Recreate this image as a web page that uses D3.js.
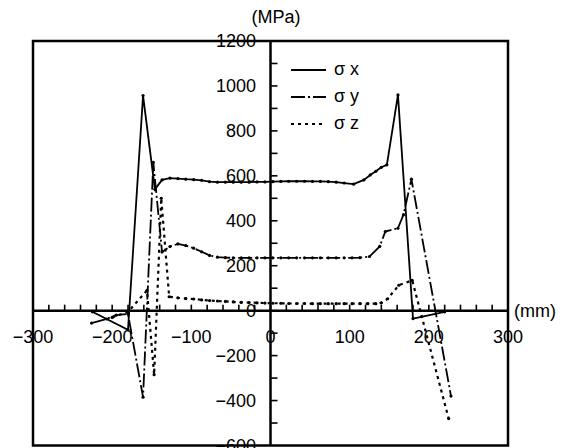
<!DOCTYPE html>
<html>
<head>
<meta charset="utf-8">
<script src="https://cdn.jsdelivr.net/npm/d3@7"></script>
<style>
  body { margin: 0; background: #fff; }
  text { font-family: "Liberation Sans", Arial, sans-serif; fill: #000; }
</style>
</head>
<body>
<svg id="chart" width="568" height="448"></svg>
<script>
// stress distribution across width
const sigmaX = [[-225,-5],[-180,-85],[-161,957],[-146,540],[-137,582],[-127,590],[-117,588],[-107,585],[-97,583],[-87,580],[-77,574],[-67,572],[-57,572],[-47,572],[-37,572],[-27,572],[-17,573],[-7,573],[3,574],[13,575],[23,576],[33,576],[43,576],[53,575],[63,575],[73,574],[83,572],[93,568],[105,563],[118,582],[126,604],[133,620],[140,638],[147,649],[161,960],[180,-35],[220,-5]];
const sigmaY = [[-226,-55],[-207,-37],[-195,-20],[-180,-15],[-161,-385],[-148,660],[-137,261],[-127,285],[-117,297],[-107,290],[-97,278],[-87,262],[-77,246],[-67,238],[-57,236],[-47,235],[-37,235],[-27,235],[-17,235],[-7,235],[3,235],[13,235],[23,235],[33,235],[43,235],[53,235],[63,235],[73,235],[83,235],[93,235],[103,235],[113,236],[125,241],[138,286],[145,352],[161,367],[168,427],[178,585],[228,-380]];
const sigmaZ = [[-200,-30],[-180,-5],[-156,90],[-147,-285],[-138,500],[-128,62],[-117,57],[-107,54],[-97,52],[-87,48],[-77,45],[-67,43],[-57,41],[-47,39],[-37,37],[-27,36],[-17,35],[-7,34],[3,33],[13,33],[23,32],[33,32],[43,32],[53,31],[63,31],[73,31],[83,31],[93,31],[103,31],[113,31],[123,31],[133,31],[140,35],[148,53],[162,113],[179,135],[225,-480]];

const xTicks = [-300,-200,-100,0,100,200,300];
const yTicks = [-600,-400,-200,0,200,400,600,800,1000,1200];
const legendNames = ["σ x","σ y","σ z"];

const svg = d3.select("#chart");
const x = d3.scaleLinear().domain([-300,300]).range([33,508]);
const y = d3.scaleLinear().domain([-600,1200]).range([445.5,41]);

const styles = [
  {data: sigmaX, dash: null, w: 1.8},
  {data: sigmaY, dash: "14,3,2,3", w: 1.8},
  {data: sigmaZ, dash: "3,4", w: 2.2}
];

// frame
svg.append("rect")
  .attr("x", x(-300)).attr("y", y(1200))
  .attr("width", x(300) - x(-300)).attr("height", y(-600) - y(1200))
  .attr("fill", "none").attr("stroke", "#000").attr("stroke-width", 2.5);

// minor ticks
svg.append("g").selectAll("line")
  .data(d3.range(-280, 300, 20))
  .enter().append("line")
    .attr("x1", d => x(d)).attr("x2", d => x(d))
    .attr("y1", y(0)).attr("y2", y(0) - 6)
    .attr("stroke", "#000").attr("stroke-width", 1.6);

svg.append("g").selectAll("line")
  .data(d3.range(-500, 1200, 100))
  .enter().append("line")
    .attr("x1", x(0)).attr("x2", x(0) + 7)
    .attr("y1", d => y(d)).attr("y2", d => y(d))
    .attr("stroke", "#000").attr("stroke-width", 1.6);

// axes through origin
svg.append("line")
  .attr("x1", x(-300)).attr("x2", x(300)).attr("y1", y(0)).attr("y2", y(0))
  .attr("stroke", "#000").attr("stroke-width", 2.5);
svg.append("line")
  .attr("x1", x(0)).attr("x2", x(0)).attr("y1", y(1200)).attr("y2", y(-600))
  .attr("stroke", "#000").attr("stroke-width", 2.5);

// tick labels
svg.append("g").selectAll("text")
  .data(xTicks)
  .enter().append("text")
    .attr("x", d => x(d)).attr("y", y(0) + 32)
    .attr("text-anchor", "middle")
    .style("font-size", "18px")
    .text(d => d < 0 ? "\u2212" + Math.abs(d) : d);

svg.append("g").selectAll("text")
  .data(yTicks)
  .enter().append("text")
    .attr("x", 256).attr("y", d => y(d))
    .attr("dy", "0.36em")
    .attr("text-anchor", "end")
    .style("font-size", "18px")
    .text(d => d < 0 ? "\u2212" + Math.abs(d) : d);

svg.append("text").attr("x", 276).attr("y", 23)
  .attr("text-anchor", "middle").style("font-size", "18px").text("(MPa)");
svg.append("text").attr("x", 514).attr("y", y(0) + 1).attr("dy", "0.3em")
  .style("font-size", "18px").text("(mm)");

// series
const line = d3.line().x(d => x(d[0])).y(d => y(d[1]));

styles.forEach(function(s) {
  svg.append("path")
    .datum(s.data)
    .attr("d", line)
    .attr("fill", "none")
    .attr("stroke", "#000")
    .attr("stroke-width", s.w)
    .attr("stroke-dasharray", s.dash);
  svg.append("g").selectAll("circle")
    .data(s.data)
    .enter().append("circle")
      .attr("cx", d => x(d[0])).attr("cy", d => y(d[1]))
      .attr("r", 1.6).attr("fill", "#000");
});

// legend
const legend = svg.append("g").selectAll("g")
  .data(legendNames)
  .enter().append("g")
    .attr("transform", (d,i) => "translate(0," + (70 + i*27) + ")");

legend.append("line")
  .attr("x1", 291).attr("x2", 326).attr("y1", 0).attr("y2", 0)
  .attr("stroke", "#000")
  .attr("stroke-width", (d,i) => styles[i].w)
  .attr("stroke-dasharray", (d,i) => styles[i].dash);

legend.append("text")
  .attr("x", 334).attr("y", 0).attr("dy", "0.3em")
  .style("font-size", "18px")
  .text(d => d);
</script>
</body>
</html>
